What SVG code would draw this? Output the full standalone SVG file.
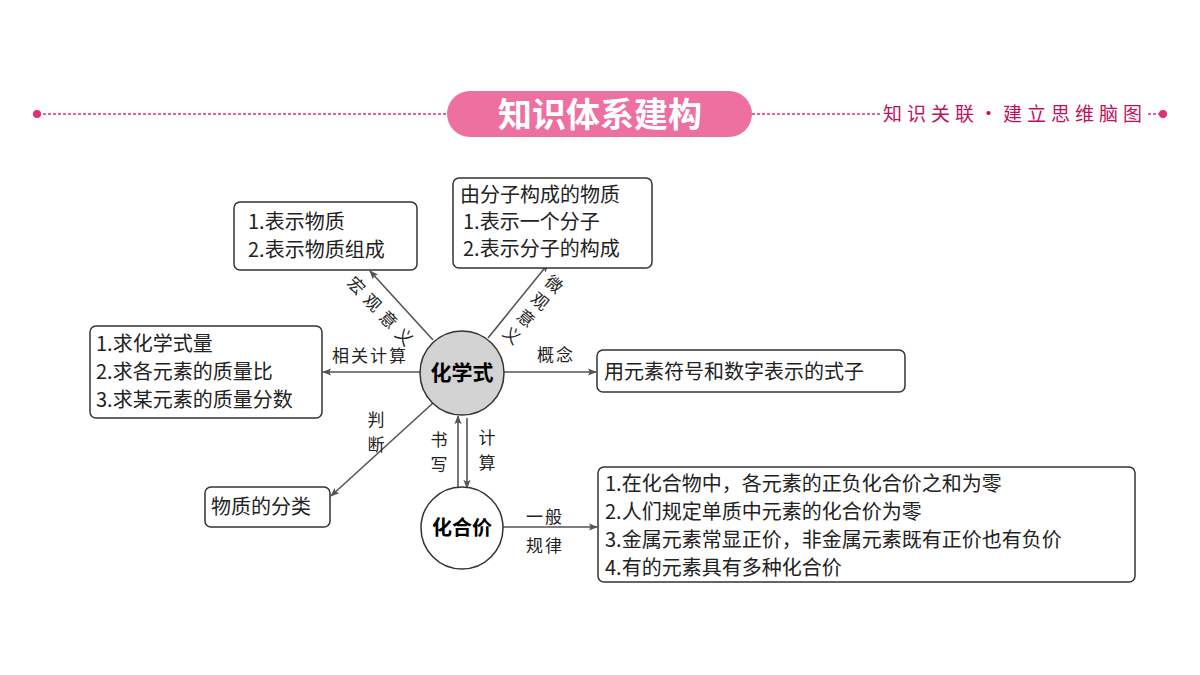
<svg xmlns="http://www.w3.org/2000/svg" width="1200" height="675" viewBox="0 0 1200 675">
<style>
.t{font-family:"Noto Sans CJK SC","Noto Sans",sans-serif;font-size:20px;fill:#222}
.s{font-family:"Noto Sans CJK SC",sans-serif;font-size:17px;fill:#222}
.b{fill:#fff;stroke:#333;stroke-width:1.5}
.l{stroke:#555;stroke-width:1.6;fill:none;marker-end:url(#a)}
</style>
<defs><marker id="a" viewBox="0 0 10 10" refX="9" refY="5" markerWidth="9" markerHeight="9" markerUnits="userSpaceOnUse" orient="auto"><path d="M0,1 L10,5 L0,9 L2,5Z" fill="#555"/></marker></defs>
<g id="header">
<line x1="38" y1="114" x2="448" y2="114" stroke="#e0307a" stroke-width="1.5" stroke-dasharray="3,2"/>
<line x1="752" y1="114" x2="880" y2="114" stroke="#e0307a" stroke-width="1.5" stroke-dasharray="3,2"/>
<line x1="1148" y1="114" x2="1162" y2="114" stroke="#e0307a" stroke-width="1.5" stroke-dasharray="3,2"/>
<circle cx="37" cy="114" r="4" fill="#e0307a"/><circle cx="1163" cy="114" r="4" fill="#e0307a"/>
<rect x="447" y="91" width="305" height="46" rx="23" fill="#ee70a0"/>
<text x="600" y="127" text-anchor="middle" font-family="Noto Sans CJK SC,sans-serif" font-weight="bold" font-size="34" fill="#fff">知识体系建构</text>
<text x="1015" y="121" text-anchor="middle" font-family="Noto Sans CJK SC,serif" font-size="19" letter-spacing="5" fill="#c0105a">知识关联·建立思维脑图</text>
</g>
<g id="connectors">
<line class="l" x1="433" y1="340" x2="370" y2="271"/>
<line class="l" x1="488" y1="338" x2="548" y2="264"/>
<line class="l" x1="420" y1="372" x2="323" y2="372"/>
<line class="l" x1="504" y1="372" x2="596" y2="372"/>
<line class="l" x1="433" y1="403" x2="331" y2="496"/>
<line class="l" x1="458" y1="487" x2="458" y2="416"/>
<line class="l" x1="467" y1="418" x2="467" y2="488"/>
<line class="l" x1="502" y1="527" x2="597" y2="527"/>
<g class="s">
<text transform="translate(352,290) rotate(45)" text-anchor="middle">宏</text>
<text transform="translate(368,307) rotate(45)" text-anchor="middle">观</text>
<text transform="translate(384,324) rotate(45)" text-anchor="middle">意</text>
<text transform="translate(400,341) rotate(45)" text-anchor="middle">义</text>
<text transform="translate(550,289) rotate(40)" text-anchor="middle">微</text>
<text transform="translate(536,306) rotate(40)" text-anchor="middle">观</text>
<text transform="translate(522,323) rotate(40)" text-anchor="middle">意</text>
<text transform="translate(508,340) rotate(40)" text-anchor="middle">义</text>
<text x="370" y="362" text-anchor="middle" letter-spacing="2">相关计算</text>
<text x="556" y="361" text-anchor="middle" letter-spacing="2">概念</text>
<text x="376" y="426" text-anchor="middle">判</text>
<text x="376" y="451" text-anchor="middle">断</text>
<text x="439" y="446" text-anchor="middle">书</text>
<text x="439" y="471" text-anchor="middle">写</text>
<text x="487" y="444" text-anchor="middle">计</text>
<text x="487" y="469" text-anchor="middle">算</text>
<text x="545" y="523" text-anchor="middle" letter-spacing="2">一般</text>
<text x="545" y="552" text-anchor="middle" letter-spacing="2">规律</text>
</g>
</g>
<g id="n-hxs"><circle cx="462" cy="373" r="42" fill="#d3d3d3" stroke="#333" stroke-width="1.5"/><text x="462" y="380" text-anchor="middle" font-family="Noto Sans CJK SC,sans-serif" font-weight="bold" font-size="21">化学式</text></g>
<g id="n-hhj"><circle cx="462" cy="528" r="41" fill="#fff" stroke="#333" stroke-width="1.5"/><text x="462" y="535" text-anchor="middle" font-family="Noto Sans CJK SC,sans-serif" font-weight="bold" font-size="20">化合价</text></g>
<g id="n-macro"><rect class="b" x="234" y="202" width="183" height="68" rx="6"/><text class="t" x="248" y="229">1.表示物质</text><text class="t" x="248" y="257">2.表示物质组成</text></g>
<g id="n-micro"><rect class="b" x="453" y="178" width="199" height="90" rx="6"/><text class="t" x="460" y="202">由分子构成的物质</text><text class="t" x="463" y="229">1.表示一个分子</text><text class="t" x="463" y="256">2.表示分子的构成</text></g>
<g id="n-calc"><rect class="b" x="90" y="326" width="232" height="92" rx="6"/><text class="t" x="96" y="351">1.求化学式量</text><text class="t" x="96" y="379">2.求各元素的质量比</text><text class="t" x="96" y="407">3.求某元素的质量分数</text></g>
<g id="n-def"><rect class="b" x="597" y="350" width="308" height="42" rx="6"/><text class="t" x="604" y="379">用元素符号和数字表示的式子</text></g>
<g id="n-cls"><rect class="b" x="205" y="487" width="125" height="40" rx="6"/><text class="t" x="211" y="514">物质的分类</text></g>
<g id="n-rule"><rect class="b" x="598" y="467" width="537" height="115" rx="6"/><text class="t" x="605" y="491">1.在化合物中，各元素的正负化合价之和为零</text><text class="t" x="605" y="519">2.人们规定单质中元素的化合价为零</text><text class="t" x="605" y="547">3.金属元素常显正价，非金属元素既有正价也有负价</text><text class="t" x="605" y="575">4.有的元素具有多种化合价</text></g>
</svg>
